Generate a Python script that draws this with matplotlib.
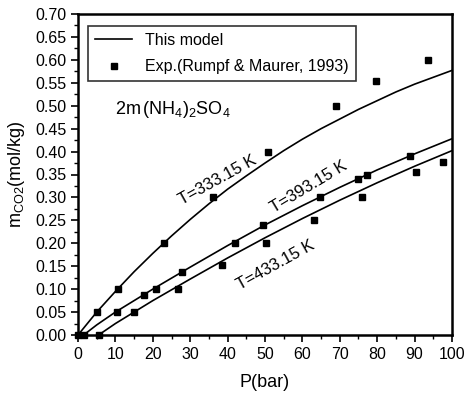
import matplotlib
matplotlib.use('Agg')
import matplotlib.pyplot as plt
from matplotlib.ticker import MultipleLocator

plt.rcParams['font.family'] = ['Liberation Sans', 'DejaVu Sans']
plt.rcParams['mathtext.fontset'] = 'custom'
plt.rcParams['mathtext.rm'] = 'Liberation Sans'
plt.rcParams['mathtext.it'] = 'Liberation Sans'

# model curves
p_333 = [0, 5, 10, 15, 20, 25, 30, 35, 40, 45, 50, 55, 60, 65, 70, 75, 80, 85, 90, 95, 100]
m_333 = [0, 0.05, 0.095, 0.138, 0.178, 0.216, 0.252, 0.286, 0.318, 0.347, 0.375,
         0.402, 0.427, 0.450, 0.471, 0.492, 0.511, 0.530, 0.547, 0.562, 0.577]
p_393 = [1.5, 5, 10, 20, 30, 40, 50, 60, 70, 80, 90, 100]
m_393 = [0, 0.022, 0.05, 0.1, 0.148, 0.195, 0.24, 0.282, 0.322, 0.36, 0.395, 0.428]
p_433 = [5.5, 10, 20, 30, 40, 50, 60, 70, 80, 90, 100]
m_433 = [0, 0.025, 0.075, 0.122, 0.168, 0.212, 0.254, 0.294, 0.332, 0.368, 0.402]

# experimental points (Rumpf & Maurer, 1993)
exp_p_333 = [0, 5.1, 10.7, 23, 36, 50.8, 69, 79.7, 93.6]
exp_m_333 = [0, 0.05, 0.10, 0.20, 0.30, 0.40, 0.50, 0.554, 0.60]
exp_p_393 = [1.5, 10.5, 17.7, 20.8, 27.8, 42, 49.5, 64.7, 75, 77.3, 88.8]
exp_m_393 = [0, 0.05, 0.087, 0.10, 0.137, 0.20, 0.24, 0.30, 0.34, 0.35, 0.39]
exp_p_433 = [5.6, 15, 26.8, 38.5, 50.3, 63, 76, 90.4, 97.6]
exp_m_433 = [0, 0.05, 0.10, 0.152, 0.20, 0.25, 0.30, 0.356, 0.378]

fig = plt.figure(figsize=(4.68, 4.0), dpi=100)
ax = fig.add_axes([0.1667, 0.1625, 0.7991, 0.8025])

ax.plot(p_333, m_333, color='black', lw=1.2, label='This model')
ax.plot(p_393, m_393, color='black', lw=1.2)
ax.plot(p_433, m_433, color='black', lw=1.2)

exp_p = exp_p_333 + exp_p_393 + exp_p_433
exp_m = exp_m_333 + exp_m_393 + exp_m_433
ax.plot(exp_p, exp_m, 's', color='black', ms=4.5, ls='none',
        label='Exp.(Rumpf & Maurer, 1993)', clip_on=False, zorder=5)

ax.set_xlim(0, 100)
ax.set_ylim(0, 0.70)
ax.xaxis.set_major_locator(MultipleLocator(10))
ax.xaxis.set_minor_locator(MultipleLocator(5))
ax.yaxis.set_major_locator(MultipleLocator(0.05))
ax.yaxis.set_minor_locator(MultipleLocator(0.025))
ax.yaxis.set_major_formatter(plt.FormatStrFormatter('%.2f'))
ax.tick_params(which='major', direction='out', length=5, width=1.2, labelsize=11.5)
ax.tick_params(which='minor', direction='out', length=3, width=1.0)
for s in ax.spines.values():
    s.set_linewidth(1.8)

ax.set_xlabel('P(bar)', fontsize=13, labelpad=9)
ax.set_ylabel(r'm$_{\mathrm{CO2}}$(mol/kg)', fontsize=13, labelpad=6)

ax.text(10, 0.482, r'2m$\,$(NH$_4$)$_2$SO$_4$', fontsize=13)
ax.text(37.2, 0.337, 'T=333.15 K', fontsize=12, rotation=29, ha='center', va='center')
ax.text(61.8, 0.324, 'T=393.15 K', fontsize=12, rotation=31, ha='center', va='center')
ax.text(52.7, 0.152, 'T=433.15 K', fontsize=12, rotation=29, ha='center', va='center')

leg = ax.legend(loc='upper left', bbox_to_anchor=(0.027, 0.963), borderaxespad=0,
                fontsize=11.5, frameon=True, fancybox=False, edgecolor='black',
                handlelength=2.3, borderpad=0.45, labelspacing=0.7)
leg.get_frame().set_linewidth(1.2)

fig.savefig('out.png', dpi=100)
